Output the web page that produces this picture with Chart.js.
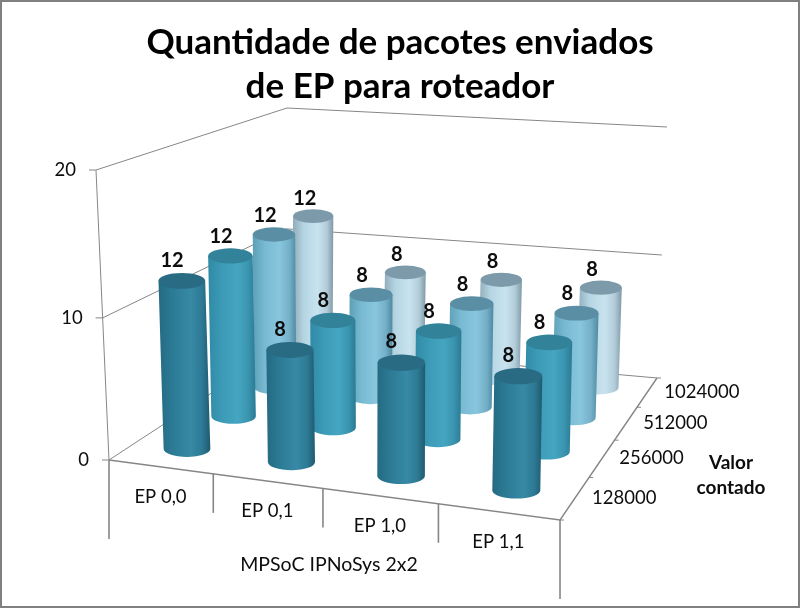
<!DOCTYPE html>
<html><head><meta charset="utf-8">
<style>html,body{margin:0;padding:0;background:#fff}canvas{display:block}</style>
<script src="https://cdn.jsdelivr.net/npm/chart.js@4"></script>
</head><body><canvas id="c" width="800" height="608"></canvas>
<script>
const categories = ['EP 0,0', 'EP 0,1', 'EP 1,0', 'EP 1,1'];
const seriesNames = ['128000', '256000', '512000', '1024000'];
const values128000 = [12, 8, 8, 8];
const values256000 = [12, 8, 8, 8];
const values512000 = [12, 8, 8, 8];
const values1024000 = [12, 8, 8, 8];
const valueTicks = [0, 10, 20];
const titleLines = ['Quantidade de pacotes enviados', 'de EP para roteador'];
const categoryAxisTitle = 'MPSoC IPNoSys 2x2';
const seriesAxisTitle = ['Valor', 'contado'];

const FONT = 'Lato, Carlito, "Open Sans", sans-serif';
const sideStops = [
  ['#256a82', '#2c7b96', '#3789a5', '#2d7a94', '#1f5a70'],
  ['#2f8aa5', '#3c9ab6', '#45a6c2', '#3a94af', '#2b7a93'],
  ['#5e9fb8', '#79bad3', '#88c6dd', '#74b0c8', '#4f8aa2'],
  ['#8fa9b6', '#b5d5e3', '#c8e3ef', '#b3ccd9', '#7f99a7']
];
const capColors = ['#2a6b84', '#328299', '#5a8ea4', '#7c9aaa'];
const LINE = '#868686';

/* Oblique projection of the chart box: unit-cube (u,w,t) to the picture */
const floor = {a: 376.7, b: 246.4, c: 109, d: -9, e: -29.8, f: 460, g: -0.1327, h: 0.247};
const boxHeight = {p00: 290, p10: 300, p11: 251, p01: 237};
const boxLean = {p00: -13, p10: 7, p11: 10, p01: 2};
const bil = (q, u, w) => q.p00*(1-u)*(1-w) + q.p10*u*(1-w) + q.p11*u*w + q.p01*(1-u)*w;
function project(u0, w, t0) {
  const u = u0 + 0.04*u0*(1-u0);
  const t = t0 - 0.04*t0*(1-t0);
  const den = floor.g*u + floor.h*w + 1;
  const x = (floor.a*u + floor.b*w + floor.c) / den;
  const y = (floor.d*u + floor.e*w + floor.f) / den;
  return {x: x + bil(boxLean, u, w)*t, y: y - bil(boxHeight, u, w)*t, h: bil(boxHeight, u, w)};
}
const dec = (scale, v) => scale.getDecimalForPixel(scale.getPixelForValue(v));

class CylinderElement extends Chart.BarElement {
  draw(ctx) {
    const o = this.cyl; if (!o) return;
    const {xb, yb, xt, yt, rb, rt, ds} = o;
    const ryb = rb*0.34, ryt = rt*0.34;
    const g = ctx.createLinearGradient(Math.min(xb-rb, xt-rt), 0, Math.max(xb+rb, xt+rt), 0);
    const st = sideStops[ds];
    [0, 0.28, 0.62, 0.84, 1].forEach((p, i) => g.addColorStop(p, st[i]));
    ctx.save();
    ctx.fillStyle = g;
    ctx.beginPath();
    ctx.moveTo(xt-rt, yt);
    ctx.lineTo(xb-rb, yb);
    ctx.ellipse(xb, yb, rb, ryb, 0, Math.PI, 0, true);
    ctx.lineTo(xt+rt, yt);
    ctx.closePath();
    ctx.fill();
    ctx.fillStyle = capColors[ds];
    ctx.beginPath();
    ctx.ellipse(xt, yt, rt, ryt, 0, 0, Math.PI*2);
    ctx.fill();
    ctx.restore();
  }
}
CylinderElement.id = 'cylinder';
CylinderElement.defaults = Chart.BarElement.defaults;
CylinderElement.defaultRoutes = Chart.BarElement.defaultRoutes;

class CylinderController extends Chart.BarController {
  updateElements(bars, start, count, mode) {
    super.updateElements(bars, start, count, mode);
    const ds = this.index, n = this.chart.data.datasets.length;
    const w = (ds + 0.5)/n, X = this._cachedMeta.xScale, Y = this._cachedMeta.yScale;
    for (let i = start; i < start + count; i++) {
      const v = this.getDataset().data[i];
      const u = dec(X, i), t = dec(Y, v);
      const b = project(u, w, 0), top = project(u, w, t);
      const r0 = 0.082*b.h;
      bars[i].cyl = {xb: b.x + 1, yb: b.y, xt: top.x + 1, yt: top.y, rb: r0, rt: r0, ds, v};
    }
  }
}
CylinderController.id = 'cylinder3d';
CylinderController.defaults = Object.assign({}, Chart.BarController.defaults, {dataElementType: 'cylinder'});
CylinderController.overrides = Chart.BarController.overrides;
Chart.register(CylinderElement, CylinderController);

function line(ctx, pts, width) {
  ctx.lineWidth = width || 1;
  ctx.strokeStyle = LINE;
  ctx.beginPath();
  pts.forEach((p, i) => i ? ctx.lineTo(p.x, p.y) : ctx.moveTo(p.x, p.y));
  ctx.stroke();
}
function text(ctx, s, x, y, font, align) {
  ctx.font = font; ctx.textAlign = align || 'center'; ctx.textBaseline = 'middle';
  ctx.fillStyle = '#0d0d0d';
  ctx.fillText(s, x, y);
}

const box3d = {
  id: 'box3d',
  beforeDatasetsDraw(chart) {
    const ctx = chart.ctx, Y = chart.scales.y;
    ctx.save();
    /* frame */
    ctx.strokeStyle = '#808080'; ctx.lineWidth = 2;
    ctx.strokeRect(1, 1, chart.width-2, chart.height-2);
    /* walls and floor */
    Y.ticks.forEach(tk => {
      const t = dec(Y, tk.value);
      const a = project(0, 0, t), b = project(0, 1, t), c = project(1, 1, t);
      line(ctx, [{x: a.x-7, y: a.y}, a, b, c]);
      text(ctx, String(tk.value), a.x-20, a.y, '18.5px ' + FONT, 'right');
    });
    const p00 = project(0,0,0), p10 = project(1,0,0), p11 = project(1,1,0), top = project(0,0,1);
    line(ctx, [p00, top]);
    line(ctx, [p00, p10, p11], 1.4);
    /* category axis: separators and labels */
    const n = categories.length;
    for (let i = 0; i <= n; i++) {
      const p = project(i/n, 0, 0);
      const len = (i === 0 || i === n) ? 79 : 39;
      line(ctx, [p, {x: p.x, y: p.y + len}], 1.6);
    }
    categories.forEach((c, i) => {
      const p = project((i+0.5)/n, 0, 0);
      text(ctx, c, p.x, p.y + 30, '18.5px ' + FONT);
    });
    text(ctx, categoryAxisTitle, 329, 565, '19.5px ' + FONT);
    /* series axis */
    const m = seriesNames.length;
    for (let j = 0; j <= m; j++) {
      const p = project(1, j/m, 0);
      line(ctx, [p, {x: p.x + 4, y: p.y}]);
    }
    seriesNames.forEach((s, j) => {
      const p = project(1, (j+0.5)/m, 0);
      text(ctx, s, p.x + 17, p.y, '18.5px ' + FONT, 'left');
    });
    seriesAxisTitle.forEach((s, i) => text(ctx, s, 731, 463 + i*25, 'bold 19px ' + FONT));
    ctx.restore();
  },
  afterDatasetsDraw(chart) {
    const ctx = chart.ctx;
    ctx.save();
    chart.data.datasets.forEach((d, i) => {
      chart.getDatasetMeta(i).data.forEach(el => {
        const o = el.cyl;
        text(ctx, String(o.v), o.xt - 0.42*o.rt, o.yt - 0.88*o.rt, 'bold 20px ' + FONT);
      });
    });
    ctx.restore();
  }
};

new Chart(document.getElementById('c'), {
  type: 'cylinder3d',
  data: {
    labels: categories,
    datasets: [values128000, values256000, values512000, values1024000].map((data, i) => ({
      label: seriesNames[i], data, clip: false
    }))
  },
  options: {
    responsive: false,
    animation: false,
    events: [],
    layout: {padding: 0},
    scales: {
      x: {type: 'category', display: false, offset: true},
      y: {type: 'linear', display: false, min: 0, max: 20, afterBuildTicks: s => { s.ticks = valueTicks.map(value => ({value})); }}
    },
    plugins: {
      legend: {display: false},
      tooltip: {enabled: false},
      title: {
        display: true, text: titleLines, color: '#000',
        font: {family: FONT, size: 35, weight: 'bold', lineHeight: 1.28},
        padding: {top: 20, bottom: 0}
      }
    }
  },
  plugins: [box3d]
});
</script></body></html>
